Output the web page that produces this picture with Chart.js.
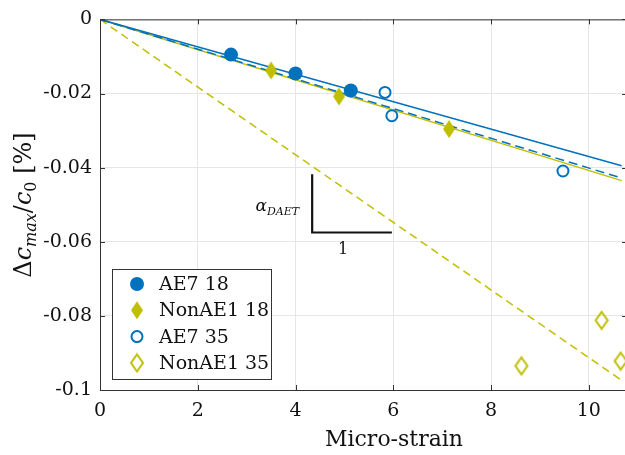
<!DOCTYPE html>
<html>
<head>
<meta charset="utf-8">
<script src="https://cdn.jsdelivr.net/npm/chart.js@4"></script>
<style>
  html, body { margin: 0; padding: 0; background: #fff; overflow: hidden; }
  #wrap { width: 625px; height: 455px; overflow: hidden; }
</style>
</head>
<body>
<div id="wrap"><canvas id="grafico" width="640" height="455"></canvas></div>
<script>
// valores
const ae7_18 = [[2.68, -0.0095], [4.0, -0.0146], [5.13, -0.0192]];
const nonae1_18 = [[3.5, -0.0138], [4.89, -0.0208], [7.14, -0.0296]];
const ae7_35 = [[5.83, -0.0197], [5.97, -0.026], [9.47, -0.0409]];
const nonae1_35 = [[8.62, -0.0935], [10.26, -0.0812], [10.65, -0.0922]];

// retas de ajuste (extremos)
const ajusteAE7_18 = [[0, 0], [10.67, -0.0395]];
const ajusteAE7_35 = [[0, 0], [10.67, -0.0428]];
const ajusteNon_18 = [[0, 0], [10.67, -0.0435]];
const ajusteNon_35 = [[0, 0], [10.67, -0.0974]];

// triangulo de inclinacao
const triangulo = [[4.34, -0.0418], [4.34, -0.0575], [5.97, -0.0575]];

const xTicks = [0, 2, 4, 6, 8, 10];
const yTicks = [-0.1, -0.08, -0.06, -0.04, -0.02, 0];
const yTickLabels = ['-0.1', '-0.08', '-0.06', '-0.04', '-0.02', '0'];
const legendas = ['AE7 18', 'NonAE1 18', 'AE7 35', 'NonAE1 35'];

const azul = '#0072BD';
const amarelo = '#BFBF00';
const SERIF = '"DejaVu Serif", serif';

function pts(arr) { return arr.map(p => ({ x: p[0], y: p[1] })); }

function losango(w, h, cor, cheio) {
    const c = document.createElement('canvas');
    c.width = w + 4; c.height = h + 4;
    const g = c.getContext('2d');
    g.beginPath();
    g.moveTo(c.width / 2, 2);
    g.lineTo(c.width - 2, c.height / 2);
    g.lineTo(c.width / 2, c.height - 2);
    g.lineTo(2, c.height / 2);
    g.closePath();
    if (cheio) { g.fillStyle = cor; g.fill(); }
    else { g.strokeStyle = cor; g.lineWidth = 2; g.stroke(); }
    return c;
}

const losCheio = losango(12, 18, amarelo, true);
const losVazio = losango(12, 17, amarelo, false);

function reta(data, cor, dash, ordem) {
    return {
        type: 'line', data: pts(data), borderColor: cor, borderWidth: 1.5,
        borderDash: dash, pointRadius: 0, fill: false, order: ordem, tension: 0
    };
}

const marcadores = [
    { label: legendas[0], data: pts(ae7_18), pointStyle: 'circle', radius: 7, backgroundColor: azul, borderColor: azul, borderWidth: 0 },
    { label: legendas[1], data: pts(nonae1_18), pointStyle: losCheio, radius: 9, backgroundColor: amarelo, borderColor: amarelo, borderWidth: 0 },
    { label: legendas[2], data: pts(ae7_35), pointStyle: 'circle', radius: 5.5, backgroundColor: 'rgba(0,0,0,0)', borderColor: azul, borderWidth: 2 },
    { label: legendas[3], data: pts(nonae1_35), pointStyle: losVazio, radius: 9, backgroundColor: 'rgba(0,0,0,0)', borderColor: amarelo, borderWidth: 2 }
];

const datasets = marcadores.map(m => ({
    type: 'scatter', label: m.label, data: m.data, pointStyle: m.pointStyle,
    pointRadius: m.radius, pointBackgroundColor: m.backgroundColor,
    pointBorderColor: m.borderColor, pointBorderWidth: m.borderWidth, order: 0
}));
datasets.push(reta(ajusteNon_35, amarelo, [8, 5], 5));
datasets.push(reta(ajusteNon_18, amarelo, [], 4));
datasets.push(reta(ajusteAE7_35, azul, [9, 5], 3));
datasets.push(reta(ajusteAE7_18, azul, [], 2));
datasets.push({
    type: 'line', data: pts(triangulo), borderColor: '#111', borderWidth: 2.2,
    pointRadius: 0, fill: false, order: 1
});

const extras = {
    id: 'extras',
    afterDatasetsDraw(chart) {
        const ctx = chart.ctx;
        const a = chart.chartArea;
        const sx = chart.scales.x, sy = chart.scales.y;
        ctx.save();
        // moldura superior/direita e marcas internas
        ctx.strokeStyle = '#333';
        ctx.lineWidth = 1;
        ctx.beginPath();
        ctx.moveTo(a.left, a.top + 0.5); ctx.lineTo(a.right, a.top + 0.5);
        ctx.moveTo(a.right + 0.5, a.top); ctx.lineTo(a.right + 0.5, a.bottom);
        xTicks.forEach(v => {
            const px = Math.round(sx.getPixelForValue(v)) + 0.5;
            ctx.moveTo(px, a.bottom); ctx.lineTo(px, a.bottom - 5);
            ctx.moveTo(px, a.top); ctx.lineTo(px, a.top + 5);
        });
        yTicks.forEach(v => {
            const py = Math.round(sy.getPixelForValue(v)) + 0.5;
            ctx.moveTo(a.left, py); ctx.lineTo(a.left + 5, py);
            ctx.moveTo(a.right, py); ctx.lineTo(a.right - 5, py);
        });
        ctx.stroke();

        // textos do triangulo
        ctx.fillStyle = '#111';
        ctx.textBaseline = 'alphabetic';
        let ax = sx.getPixelForValue(3.18), ay = sy.getPixelForValue(-0.0518);
        ctx.font = 'italic 17px ' + SERIF;
        ctx.fillText('α', ax, ay);
        ax += ctx.measureText('α').width;
        ctx.font = 'italic 11px ' + SERIF;
        ctx.fillText('DAET', ax, ay + 4);
        ctx.font = '16px ' + SERIF;
        ctx.textAlign = 'center';
        ctx.fillText('1', sx.getPixelForValue(4.97), sy.getPixelForValue(-0.0633));

        // titulo do eixo x
        ctx.font = '22px ' + SERIF;
        ctx.fillText('Micro-strain', 394, 446);

        // titulo do eixo y
        const partes = [
            ['Δ', '24px ', 0], ['c', 'italic 24px ', 0], ['max', 'italic 16px ', 5],
            ['/', '24px ', 0], ['c', 'italic 24px ', 0], ['0', '16px ', 5], [' [%]', '24px ', 0]
        ];
        let total = 0;
        partes.forEach(p => { ctx.font = p[1] + SERIF; total += ctx.measureText(p[0]).width; });
        ctx.translate(31, 205);
        ctx.rotate(-Math.PI / 2);
        ctx.textAlign = 'left';
        let cx = -total / 2;
        partes.forEach(p => {
            ctx.font = p[1] + SERIF;
            ctx.fillText(p[0], cx, p[2]);
            cx += ctx.measureText(p[0]).width;
        });
        ctx.restore();

        // legenda
        ctx.save();
        const lx = 112, ly = 269, lw = 159, lh = 110;
        ctx.fillStyle = '#fff';
        ctx.fillRect(lx, ly, lw, lh);
        ctx.strokeStyle = '#333';
        ctx.lineWidth = 1;
        ctx.strokeRect(lx + 0.5, ly + 0.5, lw, lh);
        ctx.font = '19px ' + SERIF;
        ctx.textBaseline = 'middle';
        marcadores.forEach((m, i) => {
            const y = ly + 15 + i * 26.3;
            ctx.fillStyle = m.backgroundColor;
            ctx.strokeStyle = m.borderColor;
            ctx.lineWidth = m.borderWidth;
            Chart.helpers.drawPoint(ctx, {
                pointStyle: m.pointStyle, radius: m.radius, borderWidth: m.borderWidth, rotation: 0
            }, 137, y);
            ctx.fillStyle = '#111';
            ctx.fillText(m.label, 159, y + 1);
        });
        ctx.restore();
    }
};

new Chart(document.getElementById('grafico').getContext('2d'), {
    type: 'scatter',
    data: { datasets: datasets },
    options: {
        responsive: false,
        animation: false,
        layout: { padding: { top: 18, right: 13, left: 0, bottom: 0 } },
        plugins: { legend: { display: false }, tooltip: { enabled: false } },
        scales: {
            x: {
                type: 'linear', min: 0, max: 10.78,
                afterBuildTicks: s => { s.ticks = xTicks.map(v => ({ value: v })); },
                afterFit: s => { s.height = 65; s.paddingRight = 0; s.paddingLeft = 0; },
                grid: { color: '#e6e6e6', drawTicks: false },
                border: { display: true, color: '#333' },
                ticks: { font: { family: SERIF, size: 19 }, color: '#111', padding: 10 }
            },
            y: {
                type: 'linear', min: -0.1, max: 0,
                afterBuildTicks: s => { s.ticks = yTicks.map(v => ({ value: v })); },
                afterFit: s => { s.width = 100; },
                grid: { color: '#e6e6e6', drawTicks: false },
                border: { display: true, color: '#333' },
                ticks: {
                    font: { family: SERIF, size: 19 }, color: '#111', padding: 8,
                    callback: (v, i) => yTickLabels[i]
                }
            }
        }
    },
    plugins: [extras]
});
</script>
</body>
</html>
